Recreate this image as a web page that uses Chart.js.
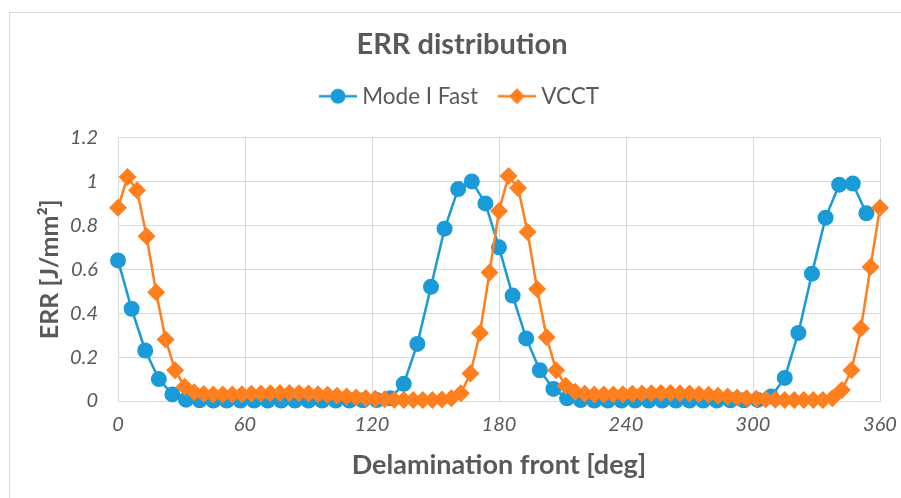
<!DOCTYPE html>
<html>
<head>
<meta charset="utf-8">
<script src="https://cdn.jsdelivr.net/npm/chart.js@4.4.1/dist/chart.umd.min.js"></script>
<style>
    html, body { margin: 0; padding: 0; background: #fff; overflow: hidden; }
    #frame {
        position: absolute; left: 9px; top: 12px; width: 1000px; height: 600px;
        border-left: 1px solid #d9d9d9; border-top: 1px solid #d9d9d9;
    }
    #wrap { position: absolute; left: 0; top: 0; width: 901px; height: 498px; }
</style>
</head>
<body>
<div id="frame"></div>
<div id="wrap"><canvas id="errChart"></canvas></div>
<script>
// Data ERR
const modeIAngles = [
    0, 6.43, 12.86, 19.29, 25.71, 32.14, 38.57, 45, 51.43, 57.86,
    64.29, 70.71, 77.14, 83.57, 90, 96.43, 102.86, 109.29, 115.71, 122.14,
    128.57, 135, 141.43, 147.86, 154.29, 160.71, 167.14, 173.57, 180, 186.43,
    192.86, 199.29, 205.71, 212.14, 218.57, 225, 231.43, 237.86, 244.29, 250.71,
    257.14, 263.57, 270, 276.43, 282.86, 289.29, 295.71, 302.14, 308.57, 315,
    321.43, 327.86, 334.29, 340.71, 347.14, 353.57
];
const modeIValues = [
    0.64, 0.42, 0.23, 0.10, 0.03, 0.006, 0.003, 0.002, 0.002, 0.002,
    0.002, 0.002, 0.002, 0.002, 0.002, 0.002, 0.002, 0.002, 0.003, 0.004,
    0.012, 0.078, 0.26, 0.52, 0.785, 0.965, 1.0, 0.90, 0.70, 0.48,
    0.285, 0.14, 0.055, 0.012, 0.004, 0.002, 0.002, 0.002, 0.002, 0.002,
    0.002, 0.002, 0.002, 0.002, 0.002, 0.003, 0.003, 0.005, 0.02, 0.105,
    0.31, 0.58, 0.835, 0.985, 0.99, 0.855
];

const vcctAngles = [
    0, 4.5, 9, 13.5, 18, 22.5, 27, 31.5, 36, 40.5,
    45, 49.5, 54, 58.5, 63, 67.5, 72, 76.5, 81, 85.5,
    90, 94.5, 99, 103.5, 108, 112.5, 117, 121.5, 126, 130.5,
    135, 139.5, 144, 148.5, 153, 157.5, 162, 166.5, 171, 175.5,
    180, 184.5, 189, 193.5, 198, 202.5, 207, 211.5, 216, 220.5,
    225, 229.5, 234, 238.5, 243, 247.5, 252, 256.5, 261, 265.5,
    270, 274.5, 279, 283.5, 288, 292.5, 297, 301.5, 306, 310.5,
    315, 319.5, 324, 328.5, 333, 337.5, 342, 346.5, 351, 355.5,
    360
];
const vcctValues = [
    0.88, 1.02, 0.96, 0.75, 0.495, 0.28, 0.14, 0.065, 0.04, 0.032,
    0.03, 0.03, 0.03, 0.031, 0.033, 0.034, 0.035, 0.036, 0.036, 0.035,
    0.034, 0.031, 0.028, 0.024, 0.02, 0.016, 0.013, 0.01, 0.008, 0.006,
    0.005, 0.004, 0.004, 0.005, 0.007, 0.012, 0.035, 0.125, 0.31, 0.585,
    0.865, 1.025, 0.97, 0.77, 0.51, 0.29, 0.14, 0.07, 0.042, 0.033,
    0.03, 0.03, 0.03, 0.031, 0.033, 0.034, 0.035, 0.036, 0.036, 0.035,
    0.034, 0.031, 0.028, 0.024, 0.02, 0.016, 0.013, 0.01, 0.008, 0.006,
    0.005, 0.004, 0.004, 0.004, 0.005, 0.012, 0.05, 0.14, 0.33, 0.61,
    0.88
];

const xTicks = [0, 60, 120, 180, 240, 300, 360];
const yTicks = [0, 0.2, 0.4, 0.6, 0.8, 1, 1.2];

const BLUE = '#1a9ad6';
const ORANGE = '#ff7f1e';
const TEXT = '#595959';
const GRID = '#d9d9d9';
const FONT = 'Lato, "Open Sans", sans-serif';

const toPoints = (xs, ys) => xs.map((x, i) => ({ x: x, y: ys[i] }));

// ikon legenda: garis + penanda
function legendIcon(color, shape) {
    const c = document.createElement('canvas');
    c.width = 38; c.height = 18;
    const g = c.getContext('2d');
    g.strokeStyle = color; g.lineWidth = 2.5;
    g.beginPath(); g.moveTo(0, 9); g.lineTo(38, 9); g.stroke();
    g.fillStyle = color;
    g.beginPath();
    if (shape === 'circle') {
        g.arc(19, 9, 7.5, 0, Math.PI * 2);
    } else {
        g.moveTo(19, 1); g.lineTo(27, 9); g.lineTo(19, 17); g.lineTo(11, 9); g.closePath();
    }
    g.fill();
    return c;
}
const icons = [legendIcon(BLUE, 'circle'), legendIcon(ORANGE, 'diamond')];

// ruang kosong antara legenda dan area grafik
const spacerPlugin = {
    id: 'spacer',
    beforeInit(chart) {
        Chart.layouts.addBox(chart, {
            position: 'top',
            weight: 500,
            fullSize: true,
            options: {},
            isHorizontal() { return true; },
            update(maxWidth) { this.width = maxWidth; this.height = 20; },
            draw() {}
        });
    }
};

const data = {
    datasets: [
        {
            label: 'Mode I Fast',
            data: toPoints(modeIAngles, modeIValues),
            borderColor: BLUE,
            backgroundColor: BLUE,
            borderWidth: 2.5,
            pointStyle: 'circle',
            pointRadius: 8,
            pointBorderWidth: 0,
            clip: false,
            order: 1
        },
        {
            label: 'VCCT',
            data: toPoints(vcctAngles, vcctValues),
            borderColor: ORANGE,
            backgroundColor: ORANGE,
            borderWidth: 2.5,
            pointStyle: 'rectRot',
            pointRadius: 9,
            pointBorderWidth: 0,
            clip: false,
            order: 0
        }
    ]
};

const config = {
    type: 'line',
    data: data,
    plugins: [spacerPlugin],
    options: {
        responsive: true,
        maintainAspectRatio: false,
        animation: false,
        layout: { padding: { left: 44, right: 21, top: 30, bottom: 0 } },
        plugins: {
            title: {
                display: true,
                text: 'ERR distribution',
                color: TEXT,
                font: { family: FONT, size: 29, weight: 'bold', lineHeight: 1 },
                padding: { top: 0, bottom: 0 }
            },
            legend: {
                position: 'top',
                labels: {
                    color: TEXT,
                    font: { family: FONT, size: 22.5 },
                    usePointStyle: true,
                    pointStyleWidth: 26,
                    boxHeight: 18,
                    padding: 26,
                    generateLabels: (chart) => chart.data.datasets.map((ds, i) => ({
                        text: ds.label,
                        fontColor: TEXT,
                        pointStyle: icons[i],
                        fillStyle: ds.borderColor,
                        strokeStyle: ds.borderColor,
                        lineWidth: 0,
                        datasetIndex: i
                    }))
                }
            },
            tooltip: { enabled: false }
        },
        scales: {
            x: {
                type: 'linear',
                min: 0,
                max: 360,
                afterBuildTicks: (scale) => { scale.ticks = xTicks.map(v => ({ value: v })); },
                afterFit: (scale) => {
                    scale.height = 97;
                    scale.paddingLeft = 0;
                    scale.paddingRight = 0;
                },
                grid: { color: GRID, lineWidth: 1, drawTicks: false },
                border: { color: GRID },
                ticks: {
                    color: TEXT,
                    padding: 12,
                    maxRotation: 0,
                    font: { family: FONT, size: 20, style: 'italic' }
                },
                title: {
                    display: true,
                    text: 'Delamination front [deg]',
                    color: TEXT,
                    font: { family: FONT, size: 27, weight: 'bold' },
                    padding: { top: 0, bottom: 17 }
                }
            },
            y: {
                min: 0,
                max: 1.2,
                afterBuildTicks: (scale) => { scale.ticks = yTicks.map(v => ({ value: v })); },
                afterFit: (scale) => { scale.width = 74; },
                grid: { color: GRID, lineWidth: 1, drawTicks: false },
                border: { color: GRID },
                ticks: {
                    color: TEXT,
                    padding: 20,
                    font: { family: FONT, size: 20, style: 'italic' },
                    callback: (v) => String(Math.round(v * 10) / 10)
                },
                title: {
                    display: true,
                    text: 'ERR [J/mm²]',
                    color: TEXT,
                    font: { family: FONT, size: 25, weight: 'bold' },
                    padding: { top: -9, bottom: 0 }
                }
            }
        }
    }
};

window.onload = () => {
    const ctx = document.getElementById('errChart').getContext('2d');
    new Chart(ctx, config);
};
</script>
</body>
</html>
